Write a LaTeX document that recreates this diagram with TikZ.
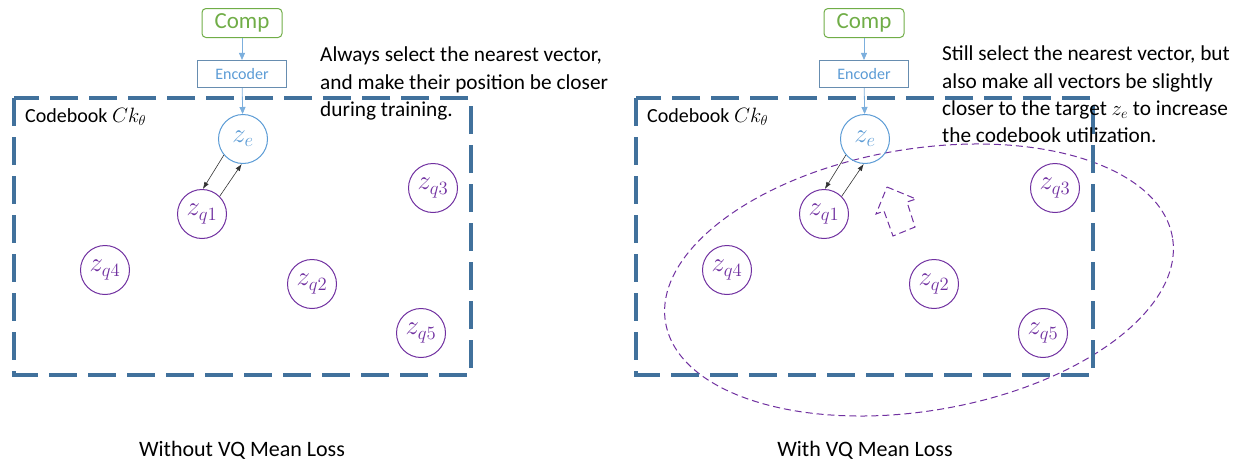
\documentclass[tikz,border=0pt]{standalone}
\usepackage{amsmath}
\usepackage{graphicx}
\usepackage{fontspec}
\setmainfont{Carlito}
\usepackage{tikz}
\usetikzlibrary{arrows.meta}
\definecolor{vqpurple}{HTML}{7030A0}
\definecolor{vqblue}{HTML}{5B9BD5}
\definecolor{vqsteel}{HTML}{41719C}
\definecolor{vqgreen}{HTML}{70AD47}
\newcommand{\zvec}[1]{\scalebox{1.3}{$z_{#1}$}}

\begin{document}
\begin{tikzpicture}[x=1pt,y=1pt,
	vec/.style={circle,draw=vqpurple,line width=1pt,text=vqpurple,minimum size=49pt,inner sep=0pt,font=\fontsize{20}{22}\selectfont},
	tgt/.style={vec,draw=vqblue,text=vqblue},
	compbox/.style={draw=vqgreen,line width=1pt,rounded corners=4pt,text=vqgreen,minimum width=80pt,minimum height=29pt,inner sep=0pt,font=\fontsize{23}{25}\selectfont},
	encbox/.style={draw=vqsteel!80,line width=1.1pt,text=vqblue,minimum width=89pt,minimum height=27pt,inner sep=0pt,font=\fontsize{16}{18}\selectfont},
	feed/.style={vqblue!80,line width=0.8pt,-{Triangle[length=7pt,width=6pt]}},
	pull/.style={black!80,line width=0.6pt,-{Latex[length=7pt,width=5pt]}},
	book/.style={vqsteel,line width=3.5pt,dash pattern=on 28pt off 11pt},
	note/.style={anchor=north west,align=left,inner sep=0pt,font=\fontsize{21.3}{27.3}\selectfont},
	caption/.style={inner sep=0pt,font=\fontsize{22}{24}\selectfont}]
	\useasboundingbox (0,0) rectangle (1243,-461);

	\draw[book] (14,-98) rectangle (471,-375);
	\node[anchor=west,inner sep=0pt,font=\fontsize{20}{22}\selectfont] (lbl) at (25,-117) {Codebook $Ck_\theta$};
	\node[compbox] (comp) at (242,-23) {Comp};
	\node[encbox] (enc) at (242,-74) {Encoder};
	\node[tgt] (ze) at (243,-139) {\zvec{e}};
	\node[vec] (q1) at (202,-214) {\zvec{q1}};
	\node[vec] (q2) at (312,-284) {\zvec{q2}};
	\node[vec] (q3) at (433,-188) {\zvec{q3}};
	\node[vec] (q4) at (105,-270) {\zvec{q4}};
	\node[vec] (q5) at (421,-333) {\zvec{q5}};
	\draw[feed] (comp) -- (enc);
	\draw[feed] (enc) -- (ze);
	\draw[pull] (ze.220) -- (q1.88);
	\draw[pull] (q1.45) -- (ze.267);
	\node[note] (txt) at (320,-47) {Always select the nearest vector,\\and make their position be closer\\during training.};
	\node[caption] (cap) at (242,-450) {Without VQ Mean Loss};

	\draw[vqpurple,line width=1pt,dash pattern=on 7pt off 4pt,rotate around={9.5:(919,-280)}] (919,-280) ellipse [x radius=257pt,y radius=131pt];
	\draw[vqpurple,line width=1pt,dash pattern=on 7pt off 4pt] (887,-187) -- (916,-199) -- (907,-202) -- (915,-227) -- (893,-236) -- (884,-211) -- (876,-214) -- cycle;
	\draw[book] (636,-98) rectangle (1093,-375);
	\node[anchor=west,inner sep=0pt,font=\fontsize{20}{22}\selectfont] (lblR) at (647,-117) {Codebook $Ck_\theta$};
	\node[compbox] (compR) at (864,-23) {Comp};
	\node[encbox] (encR) at (864,-74) {Encoder};
	\node[tgt] (zeR) at (865,-139) {\zvec{e}};
	\node[vec] (q1R) at (824,-214) {\zvec{q1}};
	\node[vec] (q2R) at (934,-284) {\zvec{q2}};
	\node[vec] (q3R) at (1055,-188) {\zvec{q3}};
	\node[vec] (q4R) at (727,-270) {\zvec{q4}};
	\node[vec] (q5R) at (1043,-333) {\zvec{q5}};
	\draw[feed] (compR) -- (encR);
	\draw[feed] (encR) -- (zeR);
	\draw[pull] (zeR.220) -- (q1R.88);
	\draw[pull] (q1R.45) -- (zeR.267);
	\node[note] (txtR) at (942,-46) {Still select the nearest vector, but\\also make all vectors be slightly\\closer to the target $z_e$ to increase\\the codebook utilization.};
	\node[caption] (capR) at (865,-450) {With VQ Mean Loss};
\end{tikzpicture}
\end{document}
